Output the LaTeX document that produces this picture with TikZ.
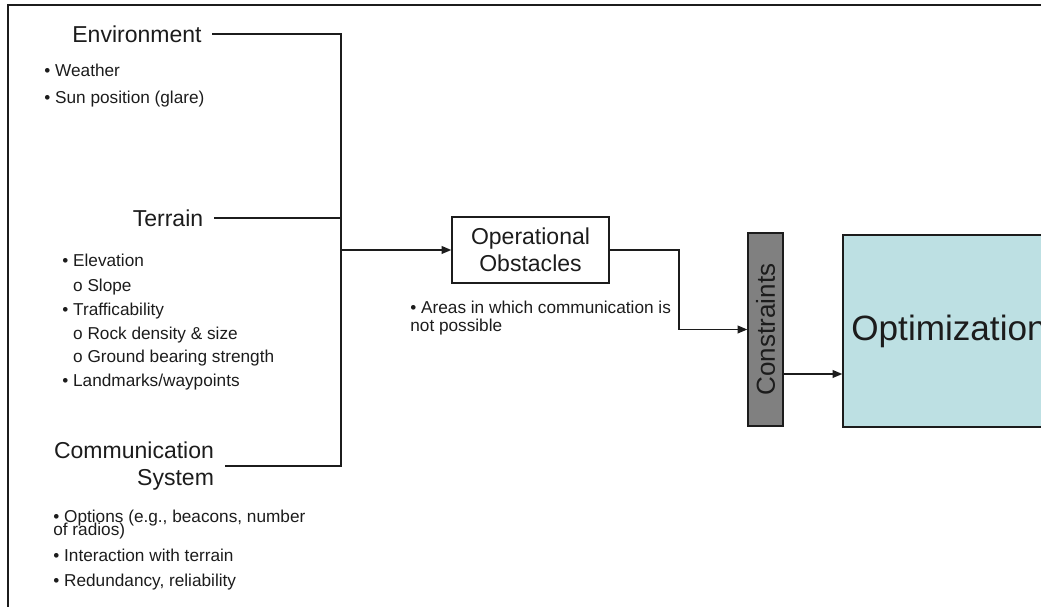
\documentclass[tikz,border=0pt]{standalone}
\usepackage{fontspec}
\setmainfont{Liberation Sans}
\usetikzlibrary{arrows.meta}

\definecolor{ink}{HTML}{1C1C1C}
\definecolor{optfill}{HTML}{BDE0E3}
\definecolor{consfill}{HTML}{808080}

\tikzset{
  title/.style={font=\fontsize{13.1}{15.4}\selectfont,text=ink,inner xsep=6pt,inner ysep=0pt},
  bullets/.style={font=\fontsize{9.8}{13.8}\selectfont,text=ink,align=left,anchor=north west,inner sep=0pt},
  wire/.style={line width=0.8pt,draw=ink},
  arr/.style={wire,-{Triangle[length=5.5pt,width=4.4pt]}}
}

\begin{document}
\begin{tikzpicture}[x=0.02cm,y=-0.02cm,line join=miter]
  \clip (0,0) rectangle (1041,607);
  % frame
  \draw[line width=1.2pt,draw=ink] (8,612) -- (8,5) -- (1046,5);
  % inputs on the left
  \node[title] (env) at (137,34) {Environment};
  \node[title] (terr) at (168,218) {Terrain};
  \node[title,align=right] (comm) at (134,466) {Communication\\System};
  \node[bullets,font=\fontsize{9.8}{15.4}\selectfont] (envlist) at (44,64)
    {\textbullet\ Weather\\\textbullet\ Sun position (glare)};
  \node[bullets] (terrlist) at (62,254)
    {\textbullet\ Elevation\\
     \hphantom{\textbullet\ }o Slope\\
     \textbullet\ Trafficability\\
     \hphantom{\textbullet\ }o Rock density \& size\\[-1pt]
     \hphantom{\textbullet\ }o Ground bearing strength\\
     \textbullet\ Landmarks/waypoints};
  \node[bullets,font=\fontsize{9.8}{15.4}\selectfont] (commlist) at (53,510)
    {\textbullet\ Options (e.g., beacons, number\\[-8.3pt]of radios)\\[-0.6pt]
     \textbullet\ Interaction with terrain\\[-1.2pt]
     \textbullet\ Redundancy, reliability};
  % middle and right blocks
  \node[title,draw=ink,line width=0.8pt,align=center,minimum width=3.14cm,minimum height=1.32cm] (ops) at (530.5,250)
    {Operational\\Obstacles};
  \node[bullets,font=\fontsize{9.8}{10.2}\selectfont] (opslist) at (410,301)
    {\textbullet\ Areas in which communication is\\not possible};
  \node[draw=ink,line width=0.8pt,fill=consfill,minimum width=0.7cm,minimum height=3.86cm,inner sep=0pt,text=ink] (cons) at (765.5,329.5)
    {\rotatebox{90}{\fontsize{14.8}{16}\selectfont Constraints}};
  \node[draw=ink,line width=0.8pt,fill=optfill,minimum width=4.24cm,minimum height=3.84cm,text=ink,font=\fontsize{20}{24}\selectfont] (opt) at (949,331)
    {Optimization};
  % connectors
  \coordinate (spine) at (341,0);
  \coordinate (kink) at (679,0);
  \draw[wire] (env.east) -| (spine |- comm.east) -- (comm.east);
  \draw[wire] (terr.east) -- (terr.east -| spine);
  \draw[arr] (spine |- ops.west) -- (ops.west);
  \draw[arr] (ops.east) -| (kink |- cons.west) -- (cons.west);
  \draw[arr] ([yshift=-0.89cm]cons.east) -- ([yshift=-0.89cm]cons.east -| opt.west);
\end{tikzpicture}
\end{document}
